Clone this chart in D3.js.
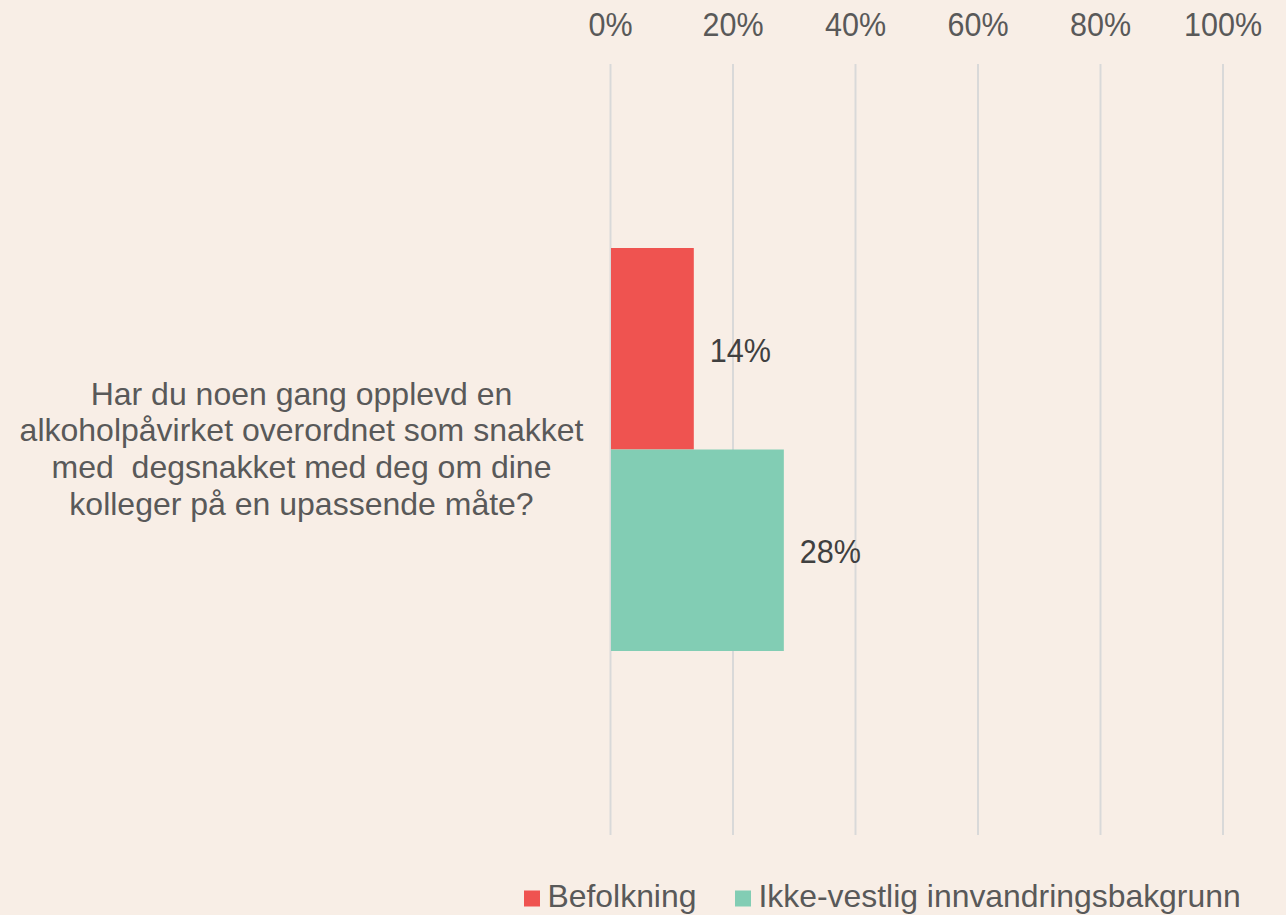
<!DOCTYPE html>
<html>
<head>
<meta charset="utf-8">
<script src="https://cdn.jsdelivr.net/npm/d3@7"></script>
<style>
  html, body { margin: 0; padding: 0; background: #F8EEE6; }
  svg { display: block; }
  text { font-family: "Liberation Sans", Arial, sans-serif; }
</style>
</head>
<body>
<svg id="chart" width="1286" height="915"></svg>
<script>
// ---- data ----
const categories = ["Har du noen gang opplevd en alkoholpåvirket overordnet som snakket med  degsnakket med deg om dine kolleger på en upassende måte?"];
const categoryLines = [[
  "Har du noen gang opplevd en",
  "alkoholpåvirket overordnet som snakket",
  "med  degsnakket med deg om dine",
  "kolleger på en upassende måte?"
]];
const seriesNames = ["Befolkning", "Ikke-vestlig innvandringsbakgrunn"];
const befolkning = [0.136];
const ikkeVestlig = [0.283];
const tickValues = [0, 0.2, 0.4, 0.6, 0.8, 1.0];
const tickLabels = ["0%", "20%", "40%", "60%", "80%", "100%"];
const colors = ["#EF5350", "#82CDB4"];

// ---- chart ----
const svg = d3.select("#chart");
const W = 1286, H = 915;
svg.append("rect").attr("width", W).attr("height", H).attr("fill", "#F8EEE6");

const plotTop = 64, plotBottom = 835;
const x = d3.scaleLinear().domain([0, 1]).range([610.5, 1223]);
const y0 = d3.scaleBand().domain(categories).range([plotTop, plotBottom]).paddingOuter(0.4566).paddingInner(0);
const y1 = d3.scaleBand().domain(seriesNames).range([0, y0.bandwidth()]).padding(0);

const seriesValues = [befolkning, ikkeVestlig];

// gridlines
svg.append("g").selectAll("line").data(tickValues).join("line")
  .attr("x1", d => x(d)).attr("x2", d => x(d))
  .attr("y1", plotTop).attr("y2", plotBottom)
  .attr("stroke", "#D9D9D9").attr("stroke-width", 2);

// top axis labels (via d3 axis, then slightly stretched vertically)
const axis = d3.axisTop(x).tickValues(tickValues)
  .tickFormat((d, i) => tickLabels[i]).tickSize(0).tickPadding(0);
const axG = svg.append("g").attr("transform", "translate(0,36)").call(axis);
axG.select(".domain").remove();
axG.selectAll(".tick").attr("transform", d => `translate(${x(d)},0) scale(1,1.07)`);
axG.selectAll("text")
  .attr("font-family", "'Liberation Sans', Arial, sans-serif")
  .attr("font-size", 30.5).attr("fill", "#595959").attr("dy", 0).attr("y", 0);

// bars
const barData = [];
categories.forEach((c, ci) => {
  seriesNames.forEach((s, si) => {
    barData.push({ cat: c, series: s, value: seriesValues[si][ci], color: colors[si] });
  });
});

const barG = svg.append("g");
barG.selectAll("rect").data(barData).join("rect")
  .attr("x", x(0) + 0.5)
  .attr("y", d => y0(d.cat) + y1(d.series))
  .attr("width", d => x(d.value) - x(0) - 0.5)
  .attr("height", y1.bandwidth())
  .attr("fill", d => d.color);

// data labels
barG.selectAll("text").data(barData).join("text")
  .attr("transform", d => `translate(${x(d.value) + 16},${y0(d.cat) + y1(d.series) + y1.bandwidth() / 2 + 13.2}) scale(1,1.1)`)
  .attr("font-size", 30.6).attr("fill", "#404040")
  .text(d => d3.format(".0%")(d.value));

// category labels
const catG = svg.append("g");
categories.forEach((c, ci) => {
  const lines = categoryLines[ci];
  const cy = y0(c) + y0.bandwidth() / 2;
  const lh = 36.8;
  const t = catG.append("text")
    .attr("text-anchor", "middle")
    .attr("font-size", 32).attr("fill", "#595959")
    .style("white-space", "pre");
  lines.forEach((ln, li) => {
    t.append("tspan")
      .attr("x", 301.5)
      .attr("y", cy + (li - (lines.length - 1) / 2) * lh + 10.2)
      .text(ln);
  });
});

// legend
const legend = svg.append("g");
const legendItems = [{ name: seriesNames[0], x: 524 }, { name: seriesNames[1], x: 735 }];
legendItems.forEach((it, i) => {
  legend.append("rect").attr("x", it.x).attr("y", 890.5).attr("width", 16).attr("height", 16)
    .attr("fill", colors[i]);
  legend.append("text").attr("x", it.x + 23.5).attr("y", 907)
    .attr("font-size", 31.9).attr("fill", "#595959").text(it.name);
});
</script>
</body>
</html>
